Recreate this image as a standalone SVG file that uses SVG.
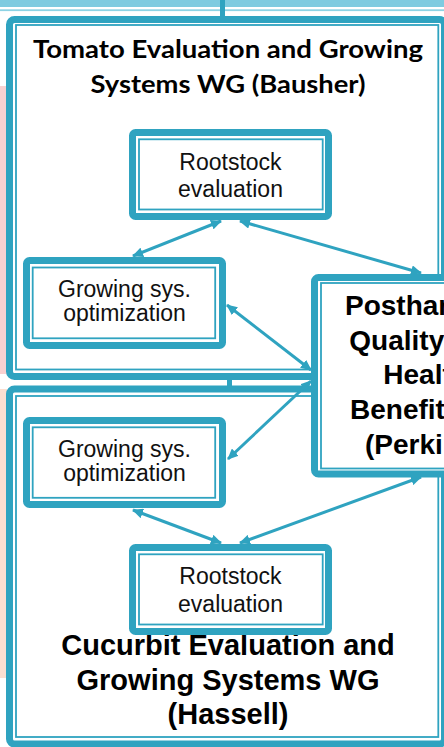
<svg xmlns="http://www.w3.org/2000/svg" width="444" height="747" viewBox="0 0 444 747">
<style>
.thick{fill:#fff;stroke:#2fa3c0;stroke-width:7;stroke-linejoin:round}
.thin{fill:none;stroke:#2fa3c0;stroke-width:1.8}
.lbl{font-family:"Liberation Sans",Arial,sans-serif;font-size:23px;fill:#111;text-anchor:middle}
.bold{font-family:"Liberation Sans",Arial,sans-serif;font-weight:bold;fill:#000}
.ttl{font-family:Lato,"Liberation Sans",sans-serif;font-weight:bold;font-size:24px;fill:#000;text-anchor:middle}
.conn{stroke:#2fa3c0;stroke-width:3;fill:none;marker-start:url(#ah);marker-end:url(#ah)}
</style>
<defs>
<marker id="ah" markerUnits="userSpaceOnUse" markerWidth="12" markerHeight="10" refX="10" refY="5" orient="auto-start-reverse" viewBox="0 0 12 10">
<path d="M0,0 L11,5 L0,10 z" fill="#2fa3c0"/>
</marker>
</defs>
<rect width="444" height="747" fill="#fff"/>
<g id="background">
<rect x="0" y="86" width="7" height="288" fill="#f9d1d1"/>
<rect x="0" y="389" width="7" height="289" fill="#fcdfd1"/>
<rect x="0" y="0" width="444" height="7" fill="#7ecbe0"/>
<rect x="0" y="9.3" width="444" height="1.8" fill="#8dd3e4"/>
</g>
<g id="tomato-wg">
<rect class="thick" x="9.5" y="19.5" width="435" height="357" rx="5"/>
<rect class="thin" x="16" y="25" width="422.3" height="344.5"/>
<text class="ttl"><tspan x="228" y="58" textLength="390" lengthAdjust="spacingAndGlyphs">Tomato Evaluation and Growing</tspan><tspan x="228" y="93" textLength="275" lengthAdjust="spacingAndGlyphs">Systems WG (Bausher)</tspan></text>
</g>
<g id="cucurbit-wg">
<rect class="thick" x="9.5" y="389" width="435" height="355" rx="5"/>
<rect class="thin" x="16" y="396" width="422.3" height="341"/>
<text class="bold" font-size="29" text-anchor="middle"><tspan x="228" y="655">Cucurbit Evaluation and</tspan><tspan x="228" y="690">Growing Systems WG</tspan><tspan x="228" y="724">(Hassell)</tspan></text>
</g>
<g id="connectors">
<rect x="220" y="0" width="5" height="17" fill="#2fa3c0"/>
<rect x="227" y="378" width="5" height="9" fill="#2fa3c0"/>
<line class="conn" x1="221" y1="221" x2="133" y2="256"/>
<line class="conn" x1="240" y1="221" x2="421" y2="273"/>
<line class="conn" x1="227" y1="305" x2="311" y2="370"/>
<line class="conn" x1="228" y1="459" x2="311" y2="381"/>
<line class="conn" x1="133" y1="510" x2="221" y2="543"/>
<line class="conn" x1="240" y1="543" x2="421" y2="477"/>
</g>
<g id="rootstock-tomato">
<rect class="thick" x="132.5" y="132.5" width="196" height="84" rx="3"/>
<rect class="thin" x="139" y="139.3" width="183.7" height="70.2"/>
<text class="lbl"><tspan x="230.5" y="170">Rootstock</tspan><tspan x="230.5" y="197">evaluation</tspan></text>
</g>
<g id="growing-tomato">
<rect class="thick" x="26.5" y="260.5" width="196" height="85" rx="3"/>
<rect class="thin" x="32.7" y="267.5" width="182.5" height="70.8"/>
<text class="lbl"><tspan x="124.5" y="297">Growing sys.</tspan><tspan x="124.5" y="321">optimization</tspan></text>
</g>
<g id="growing-cucurbit">
<rect class="thick" x="26.5" y="420.5" width="196" height="84" rx="3"/>
<rect class="thin" x="32.7" y="427.3" width="182.5" height="70.5"/>
<text class="lbl"><tspan x="124.5" y="457">Growing sys.</tspan><tspan x="124.5" y="481">optimization</tspan></text>
</g>
<g id="rootstock-cucurbit">
<rect class="thick" x="132.5" y="547.5" width="196" height="84" rx="3"/>
<rect class="thin" x="139" y="554.3" width="183.7" height="70.2"/>
<text class="lbl"><tspan x="230.5" y="584">Rootstock</tspan><tspan x="230.5" y="612">evaluation</tspan></text>
</g>
<g id="postharvest">
<rect class="thick" x="314.5" y="277.5" width="160" height="196.5" rx="4"/>
<rect class="thin" x="321" y="283" width="150" height="185.5"/>
<text class="bold" font-size="28"><tspan x="345" y="315">Postharvest</tspan><tspan x="349.3" y="349.7">Quality and</tspan><tspan x="383.3" y="384.4">Health</tspan><tspan x="350" y="419.1">Benefits</tspan><tspan x="365" y="453.8">(Perkins)</tspan></text>
</g>
</svg>
